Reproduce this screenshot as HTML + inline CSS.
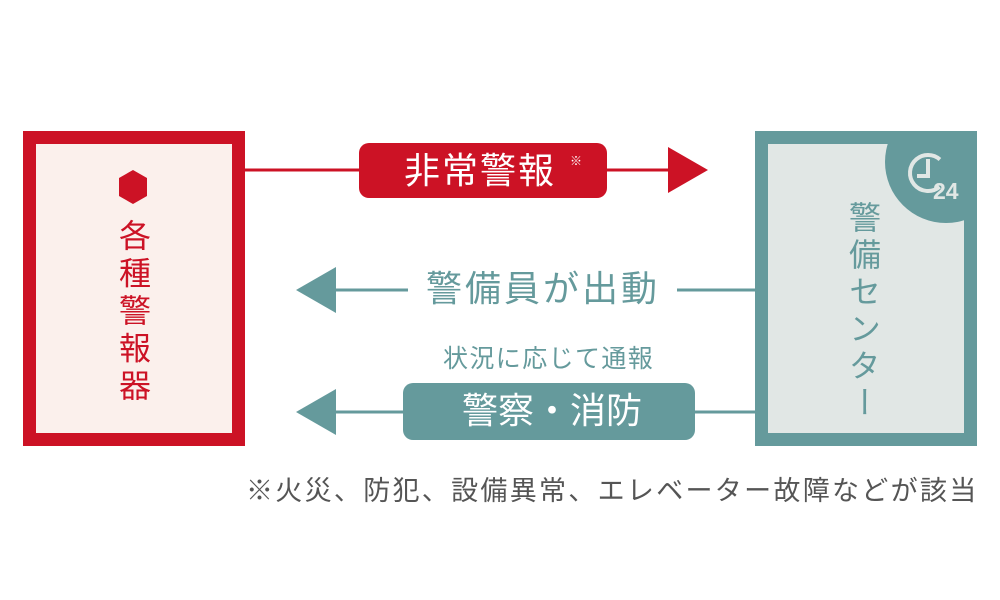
<!DOCTYPE html>
<html><head><meta charset="utf-8"><style>
body{margin:0;width:1000px;height:600px;background:#fff;position:relative;overflow:hidden;font-family:"Liberation Sans","Noto Sans CJK JP",sans-serif}
.t{position:absolute;white-space:nowrap;line-height:1}
.v{writing-mode:vertical-rl;position:absolute;line-height:1;white-space:nowrap}
</style></head><body>
<svg width="1000" height="600" style="position:absolute;left:0;top:0">
<rect x="29.5" y="137.5" width="209" height="302" fill="#fbf0ec" stroke="#cc1225" stroke-width="13"/>
<rect x="761.5" y="137.5" width="209" height="302" fill="#e1e7e5" stroke="#659a9c" stroke-width="13"/>
<clipPath id="c"><rect x="768" y="144" width="196" height="289"/></clipPath>
<circle cx="946" cy="162" r="61" fill="#659a9c" clip-path="url(#c)"/>
<circle cx="928" cy="173" r="18" fill="none" stroke="#e1e7e5" stroke-width="4" stroke-dasharray="82 31" transform="rotate(50 928 173)"/>
<path d="M928 159 V176 H917" fill="none" stroke="#e1e7e5" stroke-width="4"/>
<polygon points="133,170 147,178 147,196 133,204 119,196 119,178" fill="#cc1225"/>
<line x1="245" y1="170" x2="670" y2="170" stroke="#cc1225" stroke-width="3"/>
<polygon points="668,147 708,170 668,193" fill="#cc1225"/>
<rect x="359" y="143" width="248" height="55" rx="10" fill="#cc1225"/>
<polygon points="296,290 336,267 336,313" fill="#659a9c"/>
<line x1="334" y1="290" x2="408" y2="290" stroke="#659a9c" stroke-width="3"/>
<line x1="677" y1="290" x2="756" y2="290" stroke="#659a9c" stroke-width="3"/>
<polygon points="296,412 336,389 336,435" fill="#659a9c"/>
<line x1="334" y1="412" x2="756" y2="412" stroke="#659a9c" stroke-width="3"/>
<rect x="403" y="383" width="292" height="57" rx="10" fill="#659a9c"/>
</svg>
<div class="t" style="left:933px;top:180px;font-size:23px;font-weight:bold;color:#e1e7e5">24</div>
<div class="v" style="left:117px;top:219px;font-size:32px;letter-spacing:5.5px;color:#cc1225">各種警報器</div>
<div class="v" style="left:847px;top:201px;font-size:32px;letter-spacing:5px;color:#659a9c">警備センター</div>
<div class="t" style="left:404px;top:153px;font-size:36px;letter-spacing:2px;color:#fff">非常警報</div>
<div class="t" style="left:570px;top:155px;font-size:12px;color:#fff">※</div>
<div class="t" style="left:426px;top:271px;font-size:36px;letter-spacing:3px;color:#659a9c">警備員が出動</div>
<div class="t" style="left:443px;top:347px;font-size:25px;letter-spacing:1.4px;color:#659a9c">状況に応じて通報</div>
<div class="t" style="left:462px;top:393px;font-size:36px;color:#fff">警察・消防</div>
<div class="t" style="left:246px;top:478px;font-size:27px;letter-spacing:2.3px;color:#555">※火災、防犯、設備異常、エレベーター故障などが該当</div>
</body></html>
